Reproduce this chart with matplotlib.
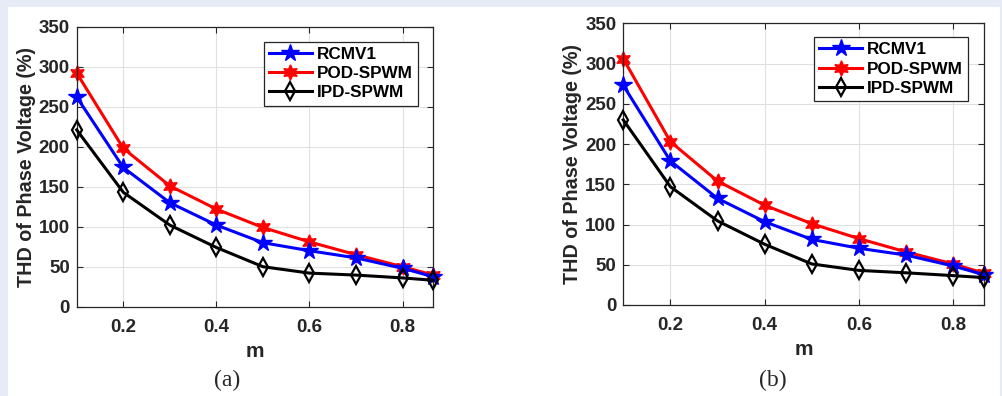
import matplotlib.pyplot as plt
from matplotlib.patches import Rectangle

# m values (last point is sqrt(3)/2)
m = [0.1, 0.2, 0.3, 0.4, 0.5, 0.6, 0.7, 0.8, 0.866]

# panel (a)
rcmv1_a = [262, 174, 130, 102, 80, 70, 61, 48, 37.5]
pod_a = [292, 198, 151, 122, 99, 81, 65, 50, 39.5]
ipd_a = [221, 143, 102, 74, 50, 42, 39.5, 36, 33]

# panel (b)
rcmv1_b = [273, 179, 132.5, 103.5, 81.5, 70.5, 62, 48.5, 37.5]
pod_b = [306, 203, 154, 124, 101, 82.5, 66, 51, 39.5]
ipd_b = [230, 147, 104.5, 75.5, 51, 43, 40, 36.5, 34]

panels = [
    ("(a)", rcmv1_a, pod_a, ipd_a, [0.0765, 0.2255, 0.3555, 0.7071], (0.957, 0.946), 227),
    ("(b)", rcmv1_b, pod_b, ipd_b, [0.6214, 0.2298, 0.3599, 0.7113], (0.955, 0.951), 773),
]

W, H = 1003, 396
fig = plt.figure(figsize=(W / 100, H / 100), dpi=100)
fig.patch.set_facecolor('#e7ebf6')
fig.patches.append(Rectangle((8 / W, 0), 992 / W, 389 / H, transform=fig.transFigure,
                             facecolor='white', edgecolor='none', zorder=-10))

dark = '#262626'
plt.rcParams['font.family'] = ['Liberation Sans', 'DejaVu Sans']

for tag, rc, pod, ipd, pos, leg_anchor, tag_x in panels:
    ax = fig.add_axes(pos)
    ax.plot(m, rc, color='#0000ff', lw=2.2, marker='*', ms=13, label='RCMV1', zorder=3,
            clip_on=False)
    ax.plot(m, pod, color='#ff0000', lw=2.2, marker=(6, 1, 0), ms=11, label='POD-SPWM',
            zorder=2, clip_on=False)
    ax.plot(m, ipd, color='black', lw=2.2, marker='d', ms=9, mfc='none', mew=1.6,
            label='IPD-SPWM', zorder=4, clip_on=False)
    ax.set_xlim(0.1, 0.866)
    ax.set_ylim(0, 350)
    ax.set_xticks([0.2, 0.4, 0.6, 0.8])
    ax.set_xticklabels(['0.2', '0.4', '0.6', '0.8'])
    ax.set_yticks(range(0, 351, 50))
    ax.grid(True, color='#e0e0e0', lw=0.8)
    ax.set_axisbelow(True)
    ax.tick_params(direction='in', top=True, right=True, length=4, width=0.8,
                   colors=dark, labelsize=13.5)
    ax.tick_params(axis='x', pad=9)
    ax.tick_params(axis='y', pad=5)
    for lbl in ax.get_xticklabels() + ax.get_yticklabels():
        lbl.set_fontweight('bold')
    for sp in ax.spines.values():
        sp.set_color(dark)
        sp.set_linewidth(0.9)
    ax.set_xlabel('m', fontsize=15, fontweight='bold', color=dark, labelpad=4)
    ax.set_ylabel('THD of Phase Voltage (%)', fontsize=14.2, fontweight='bold', color=dark,
                  labelpad=2)
    leg = ax.legend(loc='upper right', bbox_to_anchor=leg_anchor,
                    prop={'weight': 'bold', 'size': 12.3}, fancybox=False, framealpha=1,
                    edgecolor=dark, handlelength=2.5, borderpad=0.3, labelspacing=0.25,
                    handletextpad=0.3, borderaxespad=0)
    leg.get_frame().set_linewidth(0.9)
    fig.text(tag_x / W, 1 - 380 / H, tag, ha='center', va='center', fontsize=17,
             family='Liberation Serif', color=dark)

fig.savefig('out.png', dpi=100, facecolor=fig.get_facecolor())
